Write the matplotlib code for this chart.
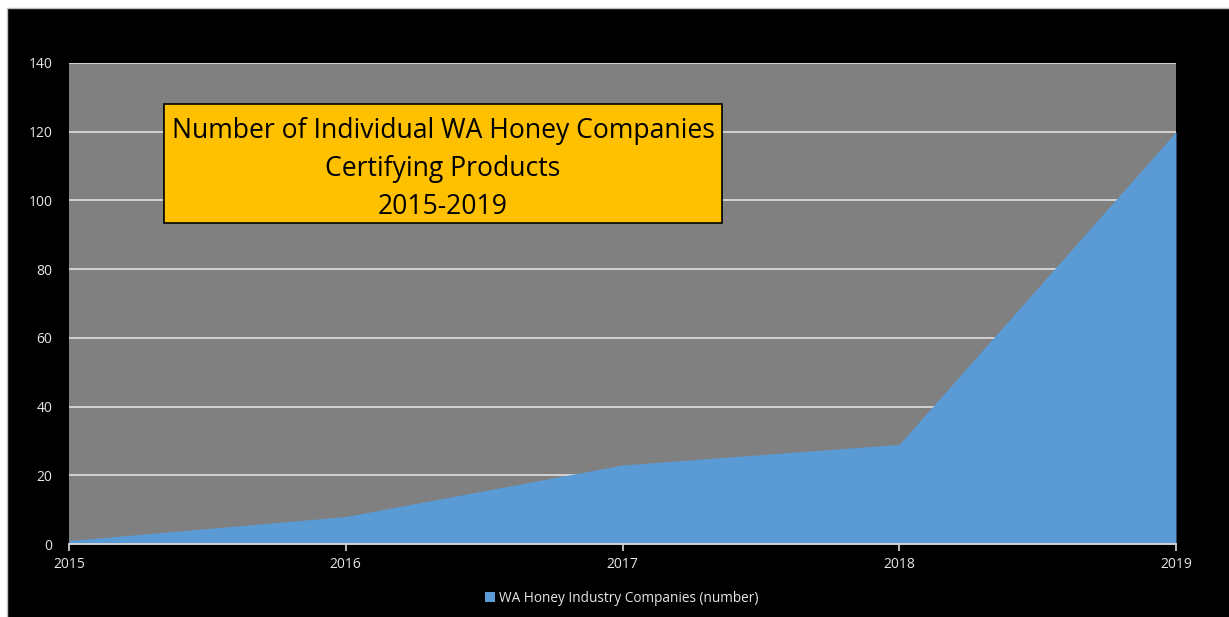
import matplotlib.pyplot as plt
from matplotlib.patches import Rectangle, Patch

years = [2015, 2016, 2017, 2018, 2019]
companies = [1, 8, 23, 29, 120]
y_ticks = [0, 20, 40, 60, 80, 100, 120, 140]
series_label = "WA Honey Industry Companies (number)"
title_lines = ["Number of Individual WA Honey Companies", "Certifying Products", "2015-2019"]

W, H = 1229, 617
fig = plt.figure(figsize=(W / 100, H / 100), dpi=100, facecolor="white")

# black chart frame inside a thin white margin
fig.patches.append(Rectangle((7 / W, -0.01), 1.02 - 7 / W, 1.01 - 8 / H, transform=fig.transFigure,
                             facecolor="black", edgecolor="#BFBFBF", linewidth=1.0, zorder=-5))

ax = fig.add_axes([69 / W, 1 - 544 / H, (1176 - 69) / W, (544 - 63) / H])
ax.set_zorder(1)
ax.set_facecolor("#808080")
ax.fill_between(years, companies, 0, color="#5B9BD5", linewidth=0, zorder=3)

ax.set_xlim(years[0], years[-1])
ax.set_ylim(0, 140)
ax.set_yticks(y_ticks)
ax.set_xticks(years)
ax.yaxis.grid(True, color="#D9D9D9", linewidth=1.3, zorder=1)
ax.set_axisbelow(True)

for side in ("top", "right", "left"):
    ax.spines[side].set_visible(False)
ax.spines["bottom"].set_color("#D9D9D9")
ax.spines["bottom"].set_linewidth(1.3)
ax.spines["bottom"].set_zorder(4)

ax.tick_params(axis="y", length=0, pad=12, labelcolor="#E6E6E6", labelsize=10)
ax.tick_params(axis="x", length=5, width=1.2, color="#D9D9D9", direction="out",
               pad=4, labelcolor="#E6E6E6", labelsize=10)
for lab in ax.get_xticklabels() + ax.get_yticklabels():
    lab.set_fontfamily("Open Sans")

# title box
fig.patches.append(Rectangle((164 / W, 1 - 223 / H), (722 - 164) / W, (223 - 104) / H,
                             transform=fig.transFigure, facecolor="#FFC000", edgecolor="black",
                             linewidth=1.2, zorder=9))
fig.text((164 + 722) / 2 / W, 1 - 169 / H, "\n".join(title_lines),
         ha="center", va="center", fontsize=19.1, family="Open Sans", color="black",
         linespacing=1.46, zorder=10)

# legend
leg = fig.legend(handles=[Patch(facecolor="#5B9BD5", edgecolor="none", label=series_label)],
                 loc="center", bbox_to_anchor=(622 / W, 1 - 598 / H), frameon=False,
                 prop={"family": "Open Sans", "size": 9.8}, handlelength=0.7, handleheight=0.7,
                 handletextpad=0.3)
leg.set_zorder(10)
for t in leg.get_texts():
    t.set_color("#E6E6E6")

fig.savefig("out.png", dpi=100, facecolor=fig.get_facecolor())
